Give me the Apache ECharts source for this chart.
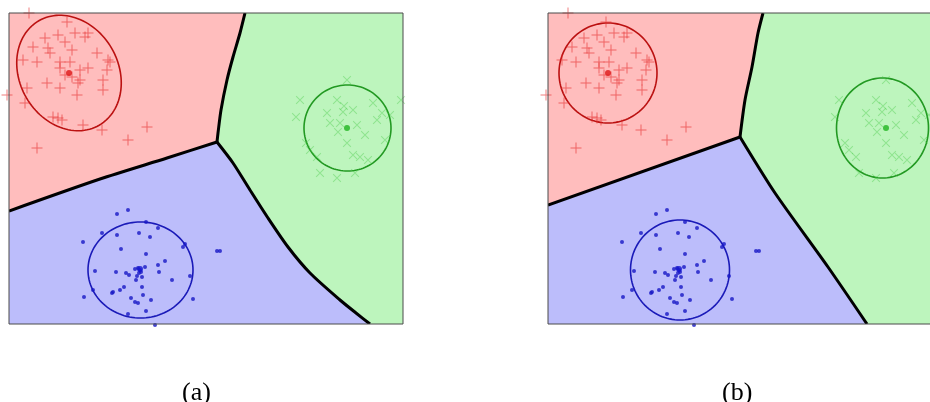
<!DOCTYPE html>
<html>
<head>
<meta charset="utf-8">
<script src="https://cdn.jsdelivr.net/npm/echarts@6/dist/echarts.min.js"></script>
<style>
html,body{margin:0;padding:0;background:#fff;}
#chart{width:930px;height:402px;}
</style>
</head>
<body>
<div id="chart"></div>
<script>
// ---- data (feature space units) ----
const X_MAX = 39.4, Y_MAX = 31.1;
const X_VIEW_MAX = [39.4, 38.2];   // panel (b) is cut by the page edge
const PANEL_LABELS = ['(a)', '(b)'];

const RED_PTS = [
  [2.0,31.1],[5.8,30.2],[7.9,29.1],[7.6,28.7],[6.6,29.1],[4.9,28.9],[3.6,28.6],[5.6,28.2],
  [2.4,27.7],[3.9,27.6],[6.3,27.4],[8.8,27.1],[4.1,27.1],[1.4,26.4],[2.8,26.2],[5.1,26.2],
  [6.1,26.2],[9.9,26.4],[10.1,26.2],[5.1,25.6],[7.9,25.6],[7.1,25.4],[9.8,25.4],[5.6,24.9],
  [6.3,24.7],[7.1,24.4],[9.4,24.4],[3.8,24.1],[6.9,24.1],[5.1,23.6],[9.4,23.4],[1.8,23.6],
  [6.8,22.9],[-0.2,22.9],[1.6,22.1],[4.4,20.7],[5.3,20.4],[4.9,20.6],[7.4,19.9],[9.3,19.4],
  [13.8,19.7],[11.9,18.4],[2.8,17.6]
];
const GREEN_PTS = [
  [33.8,24.4],[29.1,22.4],[32.8,22.4],[36.4,22.1],[31.8,21.1],[33.4,21.2],[34.4,21.4],[37.3,21.1],
  [32.1,20.1],[33.1,20.1],[36.8,20.4],[39.2,22.4],[35.6,18.9],[32.9,19.2],[33.8,18.1],[34.4,16.9],
  [35.1,16.7],[35.9,16.4],[30.8,16.7],[31.1,15.1],[32.8,14.6],[34.6,15.1],[30.1,17.4],[29.7,18.1],
  [38.1,20.9],[37.6,18.4],[28.7,20.7],[34.8,19.9],[33.5,21.8]
];
const BLUE_PTS = [
  [10.8,11.0],[11.9,11.4],[9.3,9.1],[10.8,8.9],[7.4,8.2],[13.0,9.1],[14.1,8.7],[14.9,9.6],
  [13.7,10.2],[11.2,7.5],[13.7,7.0],[15.6,6.3],[14.9,5.9],[17.6,8.0],[17.4,7.7],[20.8,7.3],
  [21.1,7.3],[8.6,5.3],[10.7,5.2],[11.7,5.1],[12.0,4.9],[12.6,5.5],[12.9,5.6],[13.1,5.4],
  [13.2,5.2],[13.0,5.1],[12.8,4.8],[13.3,4.7],[13.6,5.7],[15.0,5.2],[12.7,4.4],[16.3,4.4],
  [18.1,4.8],[11.5,3.7],[11.1,3.4],[10.4,3.2],[10.3,3.1],[8.4,3.4],[13.3,3.7],[7.5,2.7],
  [12.2,2.6],[13.4,2.9],[14.2,2.4],[12.6,2.2],[12.9,2.1],[18.4,2.5],[11.9,1.0],[13.7,1.3],
  [14.6,-0.1]
];
const CENTERS = [[6.0,25.1],[33.8,19.6],[13.1,5.5]]; // red, green, blue means

// decision boundaries: red|green, red|blue, blue|green
const RG_A = [[23.6,31.1],[23.1,29.1],[22.4,26.7],[21.8,24.4],[21.2,21.4],[20.9,19.1],[20.8,18.2]];
const RB_A = [[20.8,18.2],[15.8,16.6],[9.1,14.5],[0,11.3]];
const BG_A = [[20.8,18.2],[22.4,16.1],[24.1,13.4],[25.9,10.6],[27.9,7.7],[30.1,5.1],[33.1,2.4],[34.7,1.1],[36.1,0]];
const RG_B = [[21.5,31.1],[21.0,29.1],[20.4,25.7],[19.7,22.4],[19.2,18.7]];
const RB_B = [[19.2,18.7],[0,11.9]];
const BG_B = [[19.2,18.7],[22.7,13.1],[28.0,5.7],[31.9,0]];

// covariance contours: [cx, cy, semi-axis a, semi-axis b, angle deg]
const ELL_A = [[6.0,25.1,6.03,4.93,120],[33.85,19.6,4.35,4.3,0],[13.15,5.4,5.25,4.8,0]];
const ELL_B = [[6.0,25.1,4.9,5.0,0],[33.45,19.6,4.6,5.0,0],[13.2,5.4,4.95,5.0,0]];

// ---- styles ----
const FILLS = ['#ffbdbd', '#bdf5bd', '#bcbdfb'];
const ELL_COLORS = ['#bb1111', '#229922', '#1a1ab8'];
const CENTER_COLORS = ['#dd1515', '#1fb51f', '#1515d0'];
const PLUS = 'path://M0,4.55H10V5.45H0Z M4.55,0H5.45V10H4.55Z';

function regions(RG, RB, BG) {
  const red = [[0, Y_MAX]].concat(RG, RB);
  const green = RG.slice().reverse().concat([[X_MAX, Y_MAX], [X_MAX, 0]], BG.slice().reverse());
  const blue = [[0, 0]].concat(RB.slice().reverse(), BG);
  return [red, green, blue];
}

function panelSeries(k, RG, RB, BG, ELL) {
  const regs = regions(RG, RB, BG);
  const bounds = [RG, RB, BG];
  const ax = {xAxisIndex: k, yAxisIndex: k};
  return [
    Object.assign({
      type: 'custom', z: 1, clip: true, silent: true,
      data: [0, 1, 2].map(i => [i]),
      renderItem: function (params, api) {
        const i = params.dataIndex;
        return {type: 'polygon', shape: {points: regs[i].map(p => api.coord(p))},
                style: {fill: FILLS[i], stroke: null}};
      }
    }, ax),
    Object.assign({
      type: 'custom', z: 3, clip: true, silent: true,
      data: [0, 1, 2].map(i => [i]),
      renderItem: function (params, api) {
        const i = params.dataIndex;
        return {type: 'polyline', shape: {points: bounds[i].map(p => api.coord(p)), smooth: 0.25},
                style: {fill: null, stroke: '#000', lineWidth: 3, lineJoin: 'round'}};
      }
    }, ax),
    Object.assign({
      type: 'custom', z: 4, clip: false, silent: true,
      data: ELL.map((e, i) => [i]),
      renderItem: function (params, api) {
        const e = ELL[params.dataIndex];
        const phi = e[4] * Math.PI / 180;
        const pts = [];
        for (let s = 0; s < 120; s++) {
          const t = s / 120 * 2 * Math.PI;
          const ux = e[2] * Math.cos(t), vy = e[3] * Math.sin(t);
          pts.push(api.coord([e[0] + ux * Math.cos(phi) - vy * Math.sin(phi),
                              e[1] + ux * Math.sin(phi) + vy * Math.cos(phi)]));
        }
        return {type: 'polygon', shape: {points: pts},
                style: {fill: null, stroke: ELL_COLORS[params.dataIndex], lineWidth: 1.6}};
      }
    }, ax),
    Object.assign({type: 'scatter', z: 5, clip: false, silent: true, data: RED_PTS,
      symbol: PLUS, symbolSize: 11, itemStyle: {color: 'rgba(228,40,40,0.75)'}}, ax),
    Object.assign({type: 'scatter', z: 5, clip: false, silent: true, data: GREEN_PTS,
      symbol: PLUS, symbolSize: 11, symbolRotate: 45, itemStyle: {color: 'rgba(60,200,60,0.45)'}}, ax),
    Object.assign({type: 'scatter', z: 5, clip: false, silent: true, data: BLUE_PTS,
      symbol: 'circle', symbolSize: 4, itemStyle: {color: '#1616c4'}}, ax),
    Object.assign({type: 'scatter', z: 6, clip: false, silent: true,
      data: CENTERS.map((c, i) => ({value: c, itemStyle: {color: CENTER_COLORS[i]}})),
      symbol: 'circle', symbolSize: 6}, ax),
    Object.assign({
      type: 'custom', z: 7, clip: false, silent: true, data: [[0]],
      renderItem: function (params, api) {
        const p0 = api.coord([0, Y_MAX]), p1 = api.coord([X_MAX, 0]);
        return {type: 'rect', shape: {x: p0[0], y: p0[1], width: p1[0] - p0[0], height: p1[1] - p0[1]},
                style: {fill: null, stroke: '#4a4a4a', lineWidth: 1}};
      }
    }, ax)
  ];
}

const chart = echarts.init(document.getElementById('chart'), null, {renderer: 'canvas'});
const axisCommon = {type: 'value', show: false, splitLine: {show: false}};
chart.setOption({
  animation: false,
  backgroundColor: '#ffffff',
  grid: [
    {left: 9, top: 13, width: 394, height: 311},
    {left: 548, top: 13, width: 382, height: 311}
  ],
  xAxis: [0, 1].map(k => Object.assign({gridIndex: k, min: 0, max: X_VIEW_MAX[k]}, axisCommon)),
  yAxis: [0, 1].map(k => Object.assign({gridIndex: k, min: 0, max: Y_MAX}, axisCommon)),
  graphic: [
    {type: 'text', left: 182, top: 380, style: {text: PANEL_LABELS[0], font: '26px "Liberation Serif", serif', fill: '#000'}},
    {type: 'text', left: 722, top: 380, style: {text: PANEL_LABELS[1], font: '26px "Liberation Serif", serif', fill: '#000'}}
  ],
  series: panelSeries(0, RG_A, RB_A, BG_A, ELL_A).concat(panelSeries(1, RG_B, RB_B, BG_B, ELL_B))
});
</script>
</body>
</html>
